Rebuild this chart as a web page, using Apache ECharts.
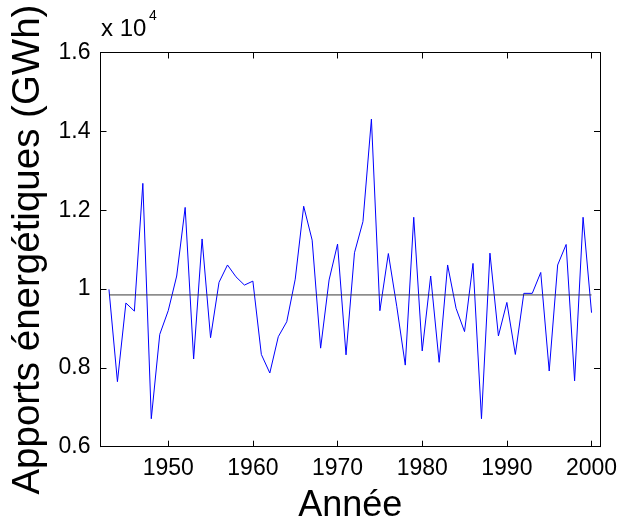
<!DOCTYPE html>
<html>
<head>
<meta charset="utf-8">
<script src="https://cdn.jsdelivr.net/npm/echarts@6/dist/echarts.min.js"></script>
<style>html,body{margin:0;padding:0;background:#fff}#c{width:626px;height:531px}</style>
</head>
<body>
<div id="c"></div>
<script>
const years = [];
for (let y = 1943; y <= 2000; y++) years.push(y);
const apports = [9990,7650,9645,9440,12680,6710,8850,9450,10330,12070,
  8225,11270,8765,10170,10610,10310,10100,10200,8340,7870,
  8790,9170,10250,12100,11240,8500,10230,11140,8330,10920,
  11710,14310,9450,10900,9550,8070,11820,8430,10330,8140,
  10610,9510,8920,10650,6710,10910,8810,9660,8340,9890,
  9890,10420,7920,10610,11130,7670,11820,9400];
const meanValue = 9850;
const xTicks = [1950,1960,1970,1980,1990,2000];
const xTickLabels = ['1950','1960','1970','1980','1990','2000'];
const yTickValues = [6000,8000,10000,12000,14000,16000];
const yTickLabels = ['0.6','0.8','1','1.2','1.4','1.6'];

const FONT = 'Liberation Sans, Arial, sans-serif';
const chart = echarts.init(document.getElementById('c'), null, {renderer:'canvas'});
const axisLineStyle = {color:'#000', width:1};
chart.setOption({
  animation:false,
  backgroundColor:'#fff',
  grid:{left:100.5, right:26, top:52.5, bottom:84.3, containLabel:false},
  graphic:[
    {type:'text', left:101, top:17, style:{text:'x 10', font:'24px ' + FONT, fill:'#000'}},
    {type:'text', left:149, top:9, style:{text:'4', font:'14px ' + FONT, fill:'#000'}}
  ],
  xAxis:[{
    type:'value', min:1942, max:2001, position:'bottom',
    name:'Année', nameLocation:'middle', nameGap:41,
    nameTextStyle:{fontSize:36, fontFamily:FONT, color:'#000'},
    axisLine:{show:true, onZero:false, lineStyle:axisLineStyle},
    axisTick:{show:true, inside:true, length:6, customValues:xTicks, lineStyle:axisLineStyle},
    axisLabel:{show:true, customValues:xTicks, fontSize:23, fontFamily:FONT, color:'#000', margin:10,
      formatter:function(v){const i=xTicks.indexOf(v); return i>=0?xTickLabels[i]:'';}},
    splitLine:{show:false}
  },{
    type:'value', min:1942, max:2001, position:'top',
    axisLine:{show:true, onZero:false, lineStyle:axisLineStyle},
    axisTick:{show:true, inside:true, length:6, customValues:xTicks, lineStyle:axisLineStyle},
    axisLabel:{show:false},
    splitLine:{show:false}
  }],
  yAxis:[{
    type:'value', min:6000, max:16000, position:'left',
    name:'Apports énergétiques (GWh)', nameLocation:'middle', nameGap:50, nameRotate:90,
    nameTextStyle:{fontSize:38.5, fontFamily:FONT, color:'#000'},
    axisLine:{show:true, onZero:false, lineStyle:axisLineStyle},
    axisTick:{show:true, inside:true, length:6, customValues:yTickValues, lineStyle:axisLineStyle},
    axisLabel:{show:true, customValues:yTickValues, fontSize:23, fontFamily:FONT, color:'#000', margin:10,
      formatter:function(v){const i=yTickValues.indexOf(v); return i>=0?yTickLabels[i]:'';}},
    splitLine:{show:false}
  },{
    type:'value', min:6000, max:16000, position:'right',
    axisLine:{show:true, onZero:false, lineStyle:axisLineStyle},
    axisTick:{show:true, inside:true, length:6, customValues:yTickValues, lineStyle:axisLineStyle},
    axisLabel:{show:false},
    splitLine:{show:false}
  }],
  series:[{
    type:'line', xAxisIndex:0, yAxisIndex:0,
    data: years.map((y,i)=>[y, apports[i]]),
    showSymbol:false, symbol:'none',
    lineStyle:{color:'#0000ff', width:1}
  },{
    type:'line', xAxisIndex:0, yAxisIndex:0,
    data: [[years[0], meanValue],[years[years.length-1], meanValue]],
    showSymbol:false, symbol:'none',
    lineStyle:{color:'#3a3a3a', width:1}
  }]
});
</script>
</body>
</html>
